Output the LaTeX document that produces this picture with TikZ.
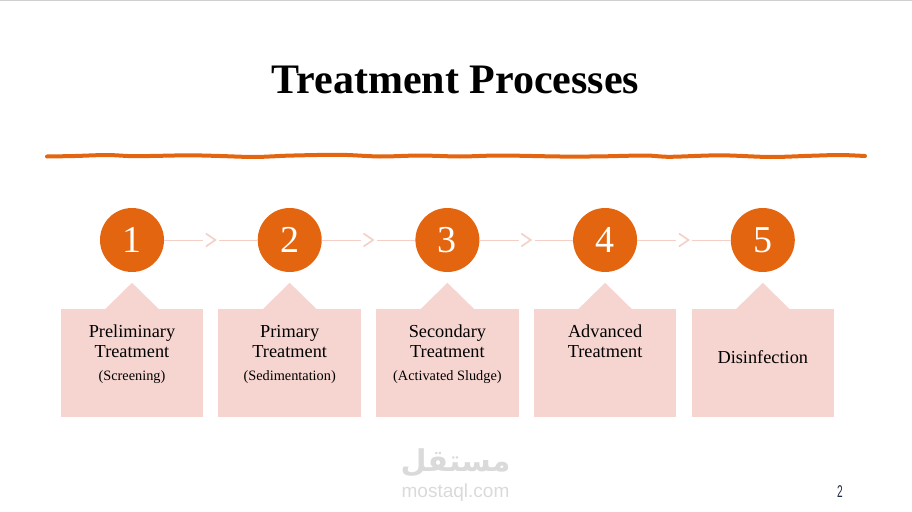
\documentclass[tikz,border=0pt]{standalone}
\usepackage{fontspec}
\setmainfont{Liberation Serif}
\newfontfamily\wmfont{Liberation Sans}
\newfontfamily\arabicfont[Script=Arabic]{DejaVu Sans}
\TeXXeTstate=1
\usetikzlibrary{calc}
\definecolor{accent}{HTML}{E4650F}
\definecolor{boxpink}{HTML}{F6D5D0}
\definecolor{linkpink}{HTML}{F5CEC5}
\definecolor{wmgray}{HTML}{DADADA}
\definecolor{topgray}{HTML}{CFCFCF}
\definecolor{pagenum}{HTML}{1F2A44}
\begin{document}
\begin{tikzpicture}[x=1pt,y=1pt,
  stepcircle/.style={circle, fill=accent, minimum size=64pt, inner sep=0pt, text=white, font=\fontsize{38}{38}\selectfont},
  stepbox/.style={rectangle, fill=boxpink, minimum width=142.5pt, minimum height=108pt, inner sep=0pt},
  linetext/.style={anchor=base, inner sep=0pt, font=\fontsize{18.3}{20}\selectfont},
  subtext/.style={anchor=base, inner sep=0pt, font=\fontsize{14.3}{15}\selectfont},
  link/.style={draw=linkpink, line width=1pt},
  chev/.style={draw=linkpink, line width=1.6pt}]
\useasboundingbox (0,0) rectangle (912,-511);
\fill[topgray] (0,0) rectangle (912,-1.5);
\node[anchor=base, inner sep=0pt, font=\bfseries\fontsize{42}{42}\selectfont] (title) at (455.5,-93) {Treatment Processes};
\draw[accent, line width=4pt, line cap=round] plot[smooth] coordinates {
 (47,-156.5) (75,-156) (107,-155) (133,-156.2) (160,-155.8) (190,-155.3) (220,-156)
 (255,-157) (290,-155.6) (340,-154.8) (380,-156.5) (420,-155.5) (460,-156.5)
 (500,-155.5) (560,-156.5) (600,-156.4) (645,-155.5) (670,-156.8) (720,-155.3)
 (770,-157) (810,-155.8) (840,-155) (865,-156)};
\foreach \i in {1,...,5} {
  \pgfmathsetmacro\cx{132+157.7*(\i-1)}
  \node[stepcircle] (c\i) at (\cx,-240) {\i};
  \node[stepbox] (b\i) at (\cx,-363) {};
  \fill[boxpink] ($(b\i.north)+(-27,-0.5)$) -- ($(b\i.north)+(0,26)$) -- ($(b\i.north)+(27,-0.5)$) -- cycle;
}
\foreach \i/\j in {1/2,2/3,3/4,4/5} {
  \coordinate (k\i) at ($(c\i)!0.5!(c\j)$);
  \draw[link] (c\i) -- ($(k\i)+(-7.5,0)$);
  \draw[link] ($(k\i)+(8.5,0)$) -- (c\j);
  \draw[chev] ($(k\i)+(-5,6.5)$) -- ($(k\i)+(4.5,0)$) -- ($(k\i)+(-5,-6.5)$);
}
\node[linetext] (t1a) at ($(b1.north)+(0,-29)$) {Preliminary};
\node[linetext] (t1b) at ($(b1.north)+(0,-49)$) {Treatment};
\node[subtext]  (t1c) at ($(b1.north)+(0,-72)$) {(Screening)};
\node[linetext] (t2a) at ($(b2.north)+(0,-29)$) {Primary};
\node[linetext] (t2b) at ($(b2.north)+(0,-49)$) {Treatment};
\node[subtext]  (t2c) at ($(b2.north)+(0,-72)$) {(Sedimentation)};
\node[linetext] (t3a) at ($(b3.north)+(0,-29)$) {Secondary};
\node[linetext] (t3b) at ($(b3.north)+(0,-49)$) {Treatment};
\node[subtext]  (t3c) at ($(b3.north)+(0,-72)$) {(Activated Sludge)};
\node[linetext] (t4a) at ($(b4.north)+(0,-29)$) {Advanced};
\node[linetext] (t4b) at ($(b4.north)+(0,-49)$) {Treatment};
\node[linetext] (t5a) at ($(b5.north)+(0,-54.3)$) {Disinfection};
\node[inner sep=0pt, text=wmgray, font=\arabicfont\bfseries\fontsize{30}{30}\selectfont] (wm) at (455.5,-463) {\beginR مستقل\endR};
\node[anchor=base, inner sep=0pt, text=wmgray, font=\wmfont\fontsize{19}{19}\selectfont] (wmurl) at (455.5,-497) {mostaql.com};
\node[anchor=base, inner sep=0pt, text=pagenum, xscale=0.6, font=\wmfont\fontsize{17}{17}\selectfont] (page) at (840,-497) {2};
\end{tikzpicture}
\end{document}
